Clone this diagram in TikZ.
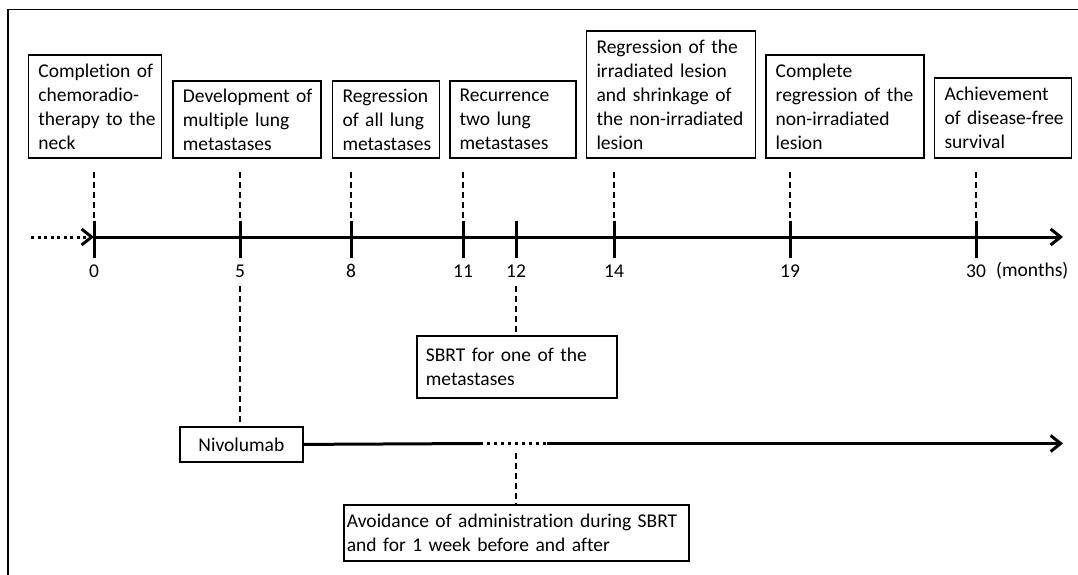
\documentclass[tikz,border=0pt]{standalone}
\usepackage{fontspec}
\setmainfont{Carlito}[Ligatures=NoCommon]
\usetikzlibrary{arrows.meta,calc}
\newcommand\bx[1]{\mbox{#1}}
\begin{document}
\begin{tikzpicture}[x=1pt,y=-1pt,
  txt/.style={font=\fontsize{19.5}{24}\selectfont},
  evbox/.style={txt, draw, line width=1.8pt, anchor=north west, inner xsep=10pt, inner ysep=0pt, align=left},
  conn/.style={line width=2.5pt, dash pattern=on 6pt off 4pt},
  tipstyle/.style={-{Straight Barb[length=10pt,width=16pt]}},
  axisline/.style={line width=3pt, tipstyle},
  dotline/.style={line width=3pt, dash pattern=on 3pt off 3.5pt},
  nivline/.style={line width=3pt},
  tickline/.style={line width=3pt},
  ]
\useasboundingbox (0,0) rectangle (1078,575);
\draw[line width=1.8pt] (1078,9.5) -- (8,9.5) -- (8,575);

% top event boxes
\node[evbox, text width=113pt, minimum height=103pt] (b1) at (27.5,54) {\bx{Completion of}\\\bx{chemoradio-}\\\bx{therapy to the}\\\bx{neck}};
\node[evbox, text width=128pt, minimum height=77pt] (b2) at (172,80) {\bx{Development of}\\\bx{multiple lung}\\\bx{metastases}};
\node[evbox, text width=87pt, minimum height=77pt] (b3) at (331.6,80) {\bx{Regression}\\\bx{of all lung}\\\bx{metastases}};
\node[evbox, text width=106pt, minimum height=77pt] (b4) at (448.7,80) {\bx{Recurrence}\\\bx{two lung}\\\bx{metastases}};
\node[evbox, text width=149pt, minimum height=127pt] (b5) at (585.6,30) {\bx{Regression of the}\\\bx{irradiated lesion}\\\bx{and shrinkage of}\\\bx{the non-irradiated}\\\bx{lesion}};
\node[evbox, text width=138pt, minimum height=103pt] (b6) at (764.8,54) {\bx{Complete}\\\bx{regression of the}\\\bx{non-irradiated}\\\bx{lesion}};
\node[evbox, text width=117pt, minimum height=80pt] (b7) at (933.6,77) {\bx{Achievement}\\\bx{of disease-free}\\\bx{survival}};

% axis
\coordinate (axs) at (31,237);
\coordinate (axe) at (1063,237);
\coordinate (t0) at (94,237);
\coordinate (t5) at (240,237);
\coordinate (t8) at (351,237);
\coordinate (t11) at (463,237);
\coordinate (t12) at (516,237);
\coordinate (t14) at (614,237);
\coordinate (t19) at (790,237);
\coordinate (t30) at (976,237);

\draw[dotline, tipstyle] (axs) -- (t0);
\draw[axisline] (t0) -- (axe);
\foreach \t in {t0,t5,t8,t11,t12,t14,t19,t30}
  \draw[tickline] ($(\t)+(0,-16)$) -- ($(\t)+(0,21)$);

\node[txt] (l0) at (94,271) {0};
\node[txt] (l5) at (240,271) {5};
\node[txt] (l8) at (351,271) {8};
\node[txt] (l11) at (463,271) {11};
\node[txt] (l12) at (516,271) {12};
\node[txt] (l14) at (614,271) {14};
\node[txt] (l19) at (790,271) {19};
\node[txt] (l30) at (976,271) {30};
\node[txt, anchor=west, inner sep=0pt] (lm) at (996,271) {(months)};

% connectors from top boxes
\draw[conn] ($(b1.south -| t0)+(0,13)$) -- ($(t0)+(0,-16)$);
\draw[conn] ($(b2.south -| t5)+(0,13)$) -- ($(t5)+(0,-16)$);
\draw[conn] ($(b3.south -| t8)+(0,13)$) -- ($(t8)+(0,-16)$);
\draw[conn] ($(b4.south -| t11)+(0,13)$) -- ($(t11)+(0,-16)$);
\draw[conn] ($(b5.south -| t14)+(0,13)$) -- ($(t14)+(0,-16)$);
\draw[conn] ($(b6.south -| t19)+(0,13)$) -- ($(t19)+(0,-16)$);
\draw[conn] ($(b7.south -| t30)+(0,13)$) -- ($(t30)+(0,-16)$);

% SBRT box
\node[evbox, inner xsep=9pt, text width=182pt, minimum height=62pt] (sbrt) at (416,335) {\bx{SBRT for one of the}\\\bx{metastases}};
\draw[conn] ($(t12)+(0,49)$) -- (sbrt.north -| t12);

% Nivolumab
\node[evbox, align=center, text width=103pt, minimum height=35pt] (niv) at (179,426) {Nivolumab};
\draw[conn] ($(t5)+(0,49)$) -- (niv.north -| t5);
\coordinate (nd1) at (480,443.5);
\coordinate (nd2) at (547,443.5);
\coordinate (ne) at (1063,443.5);
\draw[nivline] (niv.east) -- (nd1);
\draw[nivline, dash pattern=on 3pt off 4pt] (nd1) -- (nd2);
\draw[nivline, tipstyle] (nd2) -- (ne);

% avoidance box
\node[evbox, inner xsep=3pt, text width=339pt, minimum height=56pt] (avoid) at (343,504) {\bx{Avoidance of administration during SBRT}\\\bx{and for 1 week before and after}};
\draw[conn] ($(t12 |- nd1)+(0,9)$) -- (avoid.north -| t12);
\end{tikzpicture}
\end{document}
